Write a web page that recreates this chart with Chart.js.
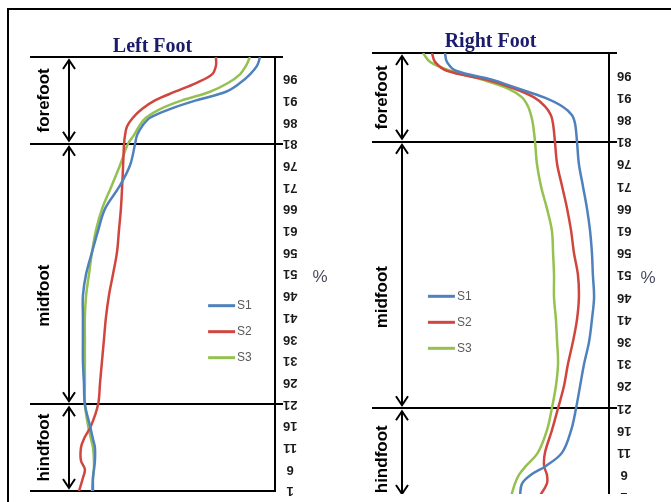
<!DOCTYPE html>
<html lang="en">
  <head>
    <meta charset="UTF-8" />
    <script src="https://cdn.jsdelivr.net/npm/chart.js@4.4.1/dist/chart.umd.min.js"></script>
    <title>Left / Right Foot</title>
    <style>
      html, body { margin: 0; padding: 0; width: 671px; height: 502px; overflow: hidden; background: #fff; }
      #frame { position: absolute; left: 7px; top: 8px; width: 720px; height: 540px; border: 2px solid #000; }
      #leftBox { position: absolute; left: 0; top: 0; width: 336px; height: 502px; }
      #rightBox { position: absolute; left: 336px; top: 0; width: 335px; height: 494px; overflow: hidden; }
    </style>
  </head>
  <body>
    <div id="frame"></div>
    <div id="leftBox"><canvas id="leftChart" width="336" height="502"></canvas></div>
    <div id="rightBox"><canvas id="rightChart" width="335" height="520"></canvas></div>

    <script>
      // % of foot length, heel (1) to toe (101)
      const percentTicks = [1, 6, 11, 16, 21, 26, 31, 36, 41, 46, 51, 56, 61, 66, 71, 76, 81, 86, 91, 96];
      const seriesNames = ["S1", "S2", "S3"];
      const seriesColors = ["#4F81BD", "#D0463F", "#94C14F"];

      // foot regions (percent bounds)
      const regionNames = ["forefoot", "midfoot", "hindfoot"];
      const regionFrom = [81, 21, 1];
      const regionTo = [101, 81, 21];

      // Left foot
      const leftPct = [101, 99, 97, 95, 93, 91, 89, 87, 85, 83, 81, 76, 71, 66, 61, 56, 51, 46, 41, 36, 31, 26, 21, 16, 13, 11, 8, 6, 4, 1];
      const leftS1 = [93.9, 92.7, 89.8, 85.7, 80.0, 67.8, 57.1, 49.0, 45.7, 43.7, 42.9, 40.8, 36.3, 30.6, 27.8, 25.3, 22.9, 21.6, 21.6, 21.6, 21.6, 22.0, 22.4, 24.5, 25.7, 26.5, 26.5, 26.1, 25.7, 25.7];
      const leftS2 = [75.9, 75.9, 74.3, 67.8, 59.2, 51.0, 45.7, 42.0, 39.6, 38.8, 38.4, 38.0, 37.6, 37.1, 36.3, 35.5, 33.9, 32.2, 31.0, 30.2, 29.4, 28.6, 27.8, 24.9, 22.0, 20.8, 20.8, 22.4, 21.6, 20.0];
      const leftS3 = [89.8, 88.2, 85.7, 80.8, 73.5, 62.0, 53.1, 47.3, 44.5, 42.4, 40.0, 36.7, 33.1, 29.4, 26.9, 25.3, 24.1, 22.9, 22.4, 22.4, 22.4, 22.4, 22.4, 23.7, 24.9, 25.7, 26.1, 26.1, 25.7, 25.3];

      // Right foot
      const rightPct = [101, 99, 97, 95, 93, 91, 89, 87, 85, 81, 76, 71, 66, 61, 56, 51, 46, 41, 36, 31, 26, 21, 16, 11, 8, 6, 4, 1];
      const rightS1 = [30.8, 31.6, 35.4, 50.6, 61.6, 72.6, 80.2, 84.4, 85.7, 86.5, 87.3, 89.0, 90.7, 92.0, 92.8, 93.2, 93.7, 92.8, 91.6, 89.5, 87.8, 86.1, 84.0, 80.2, 73.4, 67.1, 63.3, 62.4];
      const rightS2 = [25.3, 26.6, 31.6, 48.1, 59.9, 68.4, 73.0, 75.5, 76.4, 77.2, 78.1, 80.2, 82.3, 84.0, 85.2, 86.9, 87.3, 86.5, 84.8, 82.7, 81.0, 78.5, 75.9, 73.0, 72.6, 73.8, 73.8, 70.5];
      const rightS3 = [21.5, 24.5, 32.9, 46.4, 57.4, 63.3, 65.8, 67.1, 67.9, 68.8, 69.6, 71.3, 73.8, 75.9, 76.4, 76.8, 76.8, 77.6, 78.1, 78.5, 77.6, 75.9, 73.8, 70.0, 65.0, 62.0, 60.3, 58.6];

      function arrow(ctx, x, y1, y2) {
        ctx.beginPath();
        ctx.moveTo(x, y1);
        ctx.lineTo(x, y2);
        ctx.moveTo(x - 6, y1 + 9);
        ctx.lineTo(x, y1);
        ctx.lineTo(x + 6, y1 + 9);
        ctx.moveTo(x - 6, y2 - 9);
        ctx.lineTo(x, y2);
        ctx.lineTo(x + 6, y2 - 9);
        ctx.stroke();
      }

      // arrows, region names, legend and the "%" label
      const footPlugin = {
        id: "foot",
        afterDatasetsDraw(chart, args, opts) {
          const { ctx, chartArea } = chart;
          const x = chart.scales.x;
          const y = chart.scales.y;
          ctx.save();
          ctx.strokeStyle = "#000";
          ctx.fillStyle = "#000";
          ctx.lineWidth = 2;
          regionNames.forEach((name, i) => {
            const top = y.getPixelForValue(regionTo[i]) + 3;
            const bottom = y.getPixelForValue(regionFrom[i]) - 3;
            arrow(ctx, chartArea.left + opts.arrowX, top, bottom);
            ctx.save();
            ctx.translate(chartArea.left + opts.textX, y.getPixelForValue(opts.labelAt[i]));
            ctx.rotate(-Math.PI / 2);
            ctx.font = 'bold 17px "Liberation Sans"';
            ctx.textAlign = "center";
            ctx.textBaseline = "middle";
            ctx.fillText(name, 0, 0);
            ctx.restore();
          });

          // legend
          ctx.font = '12px "Liberation Sans"';
          ctx.textBaseline = "middle";
          ctx.textAlign = "left";
          chart.data.datasets.forEach((ds, i) => {
            const lx = x.getPixelForValue(opts.legendX);
            const ly = y.getPixelForValue(opts.legendY) + i * 26;
            ctx.strokeStyle = ds.borderColor;
            ctx.lineWidth = 3;
            ctx.beginPath();
            ctx.moveTo(lx, ly);
            ctx.lineTo(lx + 27, ly);
            ctx.stroke();
            ctx.fillStyle = "#595959";
            ctx.fillText(ds.label, lx + 29, ly);
          });

          // axis unit
          ctx.font = '17px "Liberation Sans"';
          ctx.fillStyle = "#4a4a5e";
          ctx.textAlign = "center";
          ctx.fillText("%", chartArea.right + opts.unitX, y.getPixelForValue(50.2));
          ctx.restore();
        }
      };

      function makeChart(id, title, pct, series, cfg) {
        const ctx = document.getElementById(id).getContext("2d");
        return new Chart(ctx, {
          type: "scatter",
          data: {
            datasets: series.map((vals, i) => ({
              label: seriesNames[i],
              data: pct.map((p, j) => ({ x: vals[j], y: p })),
              showLine: true,
              borderColor: seriesColors[i],
              borderWidth: 2.5,
              pointRadius: 0,
              tension: 0.35,
              fill: false
            }))
          },
          options: {
            responsive: false,
            animation: false,
            layout: { padding: cfg.padding },
            plugins: {
              legend: { display: false },
              tooltip: { enabled: false },
              title: {
                display: true,
                text: title,
                fullSize: false,
                color: "#1b1b6b",
                font: { family: '"Liberation Serif"', size: 20, weight: "bold", lineHeight: 1 },
                padding: { top: 0, bottom: cfg.titleGap }
              },
              foot: cfg.foot
            },
            scales: {
              x: { type: "linear", min: 0, max: 100, display: false },
              y: {
                type: "linear",
                position: "right",
                min: 1,
                max: 101,
                afterBuildTicks: (scale) => {
                  scale.ticks = percentTicks.concat([101]).map((v) => ({ value: v }));
                },
                afterFit: (scale) => {
                  scale.width = cfg.axisWidth;
                },
                border: { display: true, color: "#000", width: 2 },
                grid: {
                  drawOnChartArea: true,
                  lineWidth: 2,
                  tickLength: 8,
                  color: (c) => ([1, 21, 81, 101].includes(c.tick.value) ? "#000" : "rgba(0,0,0,0)"),
                  tickColor: (c) => ([21, 81, 101].includes(c.tick.value) ? "#000" : "rgba(0,0,0,0)")
                },
                ticks: {
                  minRotation: 180,
                  maxRotation: 180,
                  crossAlign: "center",
                  padding: 0,
                  color: "#1a1a1a",
                  font: { family: '"Liberation Sans"', size: 13, weight: "bold" },
                  callback: (v) => (v > 96 ? "" : v)
                }
              }
            }
          },
          plugins: [footPlugin]
        });
      }

      makeChart("leftChart", "Left Foot", leftPct, [leftS1, leftS2, leftS3], {
        padding: { left: 30, right: 0, top: 37, bottom: 11 },
        titleGap: 0,
        axisWidth: 61,
        foot: { arrowX: 39, textX: 14, labelAt: [91, 46, 11], legendX: 72.7, legendY: 43.7, unitX: 45 }
      });

      makeChart("rightChart", "Right Foot", rightPct, [rightS1, rightS2, rightS3], {
        padding: { left: 36, right: 0, top: 32, bottom: 23 },
        titleGap: 1,
        axisWidth: 62,
        foot: { arrowX: 30, textX: 10, labelAt: [91, 46, 9.5], legendX: 23.6, legendY: 46.2, unitX: 39 }
      });
    </script>
  </body>
</html>
